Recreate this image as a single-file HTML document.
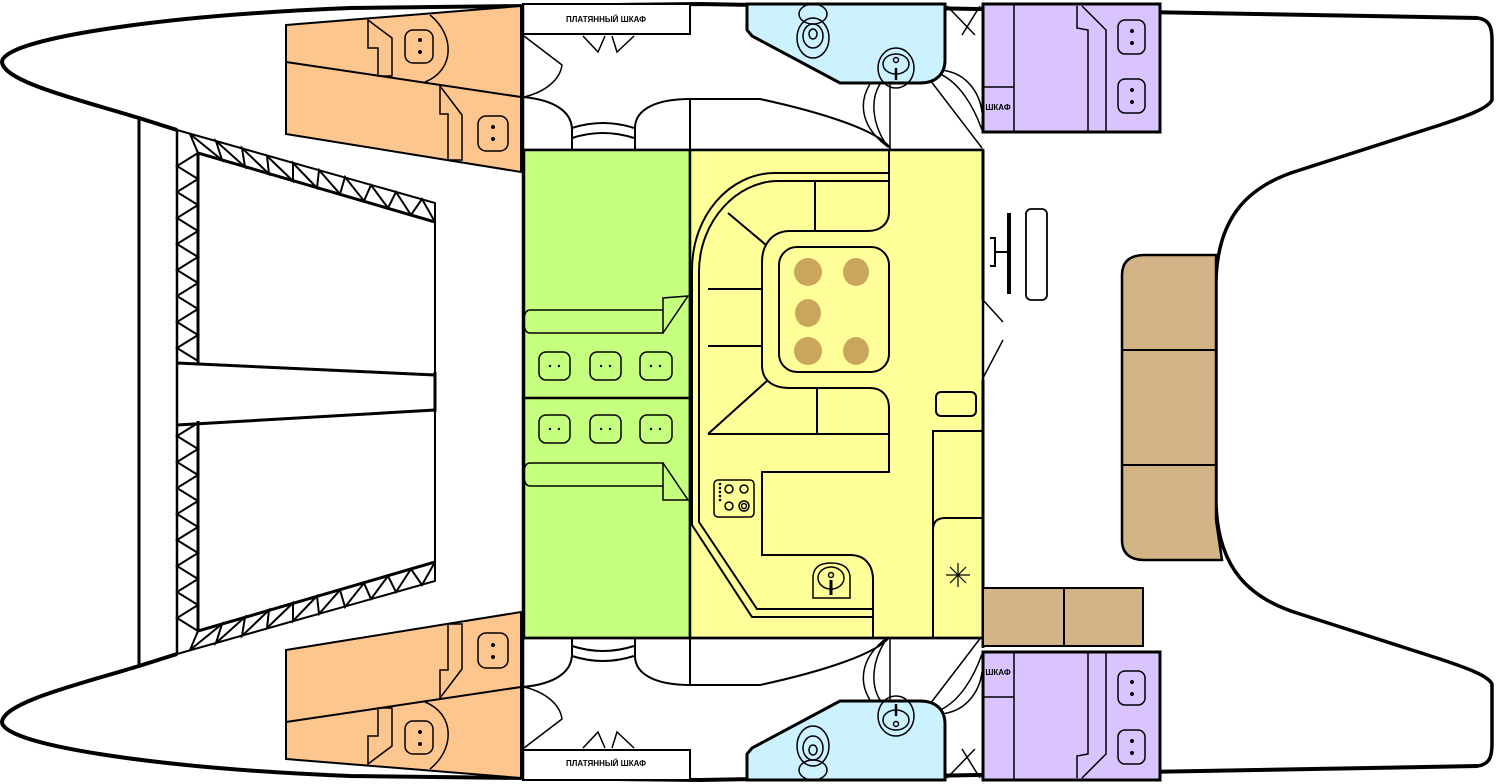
<!DOCTYPE html>
<html><head><meta charset="utf-8"><style>
html,body{margin:0;padding:0;background:#fff;}
svg{display:block;}
text{font-family:"Liberation Sans","DejaVu Sans",sans-serif;}
</style></head><body>
<svg width="1500" height="784" viewBox="0 0 1500 784" xmlns="http://www.w3.org/2000/svg" fill="none" stroke="#000" stroke-width="1.5">
<defs>
<g id="half">
  <path d="M1478,18 L700,4 L350,8 C150,16 2,40 2,62 C4,82 80,100 139,118 L177,130" stroke-width="4"/>
  <path d="M1478,18 C1490,20 1492,28 1492,40 L1492,100 C1488,108 1470,115 1440,125 L1300,170 C1250,185 1218,215 1216,280 L1216,392" stroke-width="3.5"/>
  <line x1="139" y1="118" x2="139" y2="392" stroke-width="3"/>
  <line x1="177" y1="130" x2="177" y2="392" stroke-width="2.5"/>
  <path d="M177,130 L435,203 L435,392" stroke-width="2"/>
  <path d="M198,363 L198,153 L435,222" stroke-width="3"/>
  <polyline points="198,153 177,166 198,179 177,192 198,205 177,218 198,231 177,244 198,257 177,270 198,283 177,296 198,309 177,322 198,335 177,348 198,361" stroke-width="2"/>
  <polyline points="198,153 190,134 222,160 216,141 245,167 242,148 269,174 267,156 293,181 293,163 317,188 319,170 340,194 345,177 364,201 371,185 388,208 396,192 411,215 422,199 435,222" stroke-width="2"/>
  <path d="M286,25 L521,6 L521,172 L286,134 Z" fill="#fdc68f" stroke-width="2"/>
  <line x1="286" y1="62" x2="521" y2="97" stroke-width="2"/>
  <path d="M368,20 L368,48 L378,48 L378,76 L392,76 L392,38 Z"/>
  <path d="M430,15 C455,35 455,70 425,82"/>
  <rect x="405" y="30" width="28" height="33" rx="8"/>
  <circle cx="420" cy="40" r="1.2" fill="#000"/><circle cx="420" cy="52" r="1.2" fill="#000"/>
  <path d="M440,86 L440,114 L448,114 L448,160 L462,160 L462,115 Z"/>
  <rect x="478" y="116" width="30" height="35" rx="8"/>
  <circle cx="493" cy="127" r="1.2" fill="#000"/><circle cx="493" cy="139" r="1.2" fill="#000"/>
  <rect x="523" y="4" width="167" height="30" fill="#fff" stroke-width="2"/>
  <path d="M583,36 L598,52 L605,36 M612,36 L617,52 L634,36"/>
  <path d="M524,36 L562,65 C560,80 545,92 524,97"/>
  <line x1="523" y1="4" x2="523" y2="392" stroke-width="2.5"/>
  <path d="M523,97 C555,100 572,112 572,130 L572,150 M572,128 Q603,118 634,128 M572,138 Q603,128 634,138 M635,150 L635,128 C635,110 655,99 690,99 L760,99 C820,112 878,130 890,148" stroke-width="2"/>
  <line x1="690" y1="99" x2="690" y2="150" stroke-width="2"/>
  <line x1="890" y1="83" x2="890" y2="150"/>
  <path d="M870,84 C860,100 858,125 888,147 M880,84 C870,100 872,125 888,147"/>
  <path d="M930,80 L982,148 M935,72 C960,80 975,110 982,130 M940,70 C968,72 980,95 982,112"/>
  <path d="M947,6 L975,35 M980,6 L962,35"/>
  <line x1="523" y1="150" x2="983" y2="150" stroke-width="2.5"/>
  <path d="M747,4 L945,4 L945,60 C945,75 935,83 920,83 L840,83 L752,36 L747,30 Z" fill="#ccf2ff" stroke-width="3"/>
  <ellipse cx="813" cy="14" rx="14" ry="10"/>
  <ellipse cx="813" cy="38" rx="16" ry="20"/>
  <ellipse cx="813" cy="36" rx="10" ry="12"/>
  <ellipse cx="813" cy="34" rx="4" ry="5"/>
  <ellipse cx="896" cy="68" rx="18" ry="20"/>
  <ellipse cx="896" cy="64" rx="13" ry="10"/>
  <circle cx="896" cy="60" r="2.5"/>
  <line x1="896" y1="68" x2="896" y2="80" stroke-width="2.5"/>
  <rect x="983" y="4" width="177" height="128" fill="#d9c4ff" stroke-width="3"/>
  <line x1="1014" y1="4" x2="1014" y2="132"/>
  <line x1="983" y1="87" x2="1014" y2="87"/>
  <path d="M1077,6 L1077,28 L1088,30 L1088,132 M1106,132 L1106,30 L1082,6"/>
  <rect x="1118" y="20" width="27" height="34" rx="7"/>
  <circle cx="1132" cy="31" r="1.2" fill="#000"/><circle cx="1132" cy="43" r="1.2" fill="#000"/>
  <rect x="1118" y="79" width="27" height="34" rx="7"/>
  <circle cx="1132" cy="90" r="1.2" fill="#000"/><circle cx="1132" cy="102" r="1.2" fill="#000"/>
</g>
</defs>
<use href="#half"/>
<use href="#half" transform="matrix(1 0 0 -1 0 784)"/>
<path d="M177,363 L435,375 M177,425 L435,410" stroke-width="3"/>
<line x1="435" y1="372" x2="435" y2="412" stroke-width="3"/>
<rect x="524" y="150" width="166" height="488" fill="#c6ff80" stroke-width="2.5"/>
<line x1="524" y1="398" x2="690" y2="398" stroke-width="2.5"/>
<path d="M530,310 L663,310 L663,333 L530,333 Q524,333 524,322 Q524,310 530,310 Z"/>
<path d="M663,310 L663,298 L688,296 L663,333"/>
<path d="M530,486 L663,486 L663,463 L530,463 Q524,463 524,474 Q524,486 530,486 Z"/>
<path d="M663,486 L663,500 L688,500 L663,463"/>
<g>
<rect x="539" y="352" width="31" height="28" rx="7"/><rect x="590" y="352" width="31" height="28" rx="7"/><rect x="640" y="352" width="32" height="28" rx="7"/>
<rect x="539" y="415" width="31" height="28" rx="7"/><rect x="590" y="415" width="31" height="28" rx="7"/><rect x="640" y="415" width="32" height="28" rx="7"/>
</g>
<g fill="#000" stroke="none">
<circle cx="550" cy="366" r="1.2"/><circle cx="559" cy="366" r="1.2"/><circle cx="601" cy="366" r="1.2"/><circle cx="610" cy="366" r="1.2"/><circle cx="651" cy="366" r="1.2"/><circle cx="660" cy="366" r="1.2"/>
<circle cx="550" cy="429" r="1.2"/><circle cx="559" cy="429" r="1.2"/><circle cx="601" cy="429" r="1.2"/><circle cx="610" cy="429" r="1.2"/><circle cx="651" cy="429" r="1.2"/><circle cx="660" cy="429" r="1.2"/>
</g>
<rect x="690" y="150" width="293" height="488" fill="#ffff99" stroke-width="2.5"/>
<path d="M889,173 L775,173 C730,173 692,215 692,270 L692,525 L752,617 L873,617" stroke-width="2"/>
<path d="M889,181 L778,181 C738,181 699,220 699,272 L699,522 L757,609 L873,609" stroke-width="2"/>
<path d="M889,150 L889,212 C889,224 880,231 868,231 L790,231 C772,231 762,245 762,262 L762,365 C762,380 772,388 790,388 L870,388 C882,388 889,396 889,408 L889,472 L762,472 L762,555 L850,555 C865,555 873,565 873,580 L873,638" stroke-width="2"/>
<path d="M815,181 L815,231 M728,213 L766,245 M708,289 L762,289 M708,346 L762,346 M768,380 L708,434 M708,434 L889,434 M817,388 L817,434" stroke-width="2"/>
<rect x="779" y="247" width="110" height="125" rx="18" stroke-width="2"/>
<g fill="#c9a55e" stroke="none">
<ellipse cx="808" cy="272" rx="14" ry="14"/><ellipse cx="856" cy="272" rx="13" ry="14"/>
<ellipse cx="808" cy="313" rx="13" ry="14"/>
<ellipse cx="808" cy="351" rx="14" ry="14"/><ellipse cx="856" cy="351" rx="13" ry="14"/>
</g>
<rect x="714" y="480" width="40" height="37" rx="4"/>
<circle cx="729" cy="489" r="4"/><circle cx="744" cy="489" r="4"/><circle cx="729" cy="506" r="4"/><circle cx="744" cy="506" r="5"/><circle cx="744" cy="506" r="2.5"/>
<g fill="#000" stroke="none"><circle cx="720" cy="484" r="1.3"/><circle cx="720" cy="488" r="1.3"/><circle cx="720" cy="492" r="1.3"/><circle cx="720" cy="496" r="1.3"/><circle cx="720" cy="500" r="1.3"/></g>
<path d="M813,598 L813,578 C813,566 822,563 831,563 C840,563 850,566 850,578 L850,598 Z"/>
<ellipse cx="831" cy="578" rx="13" ry="11"/><circle cx="831" cy="575" r="2.5"/>
<line x1="831" y1="580" x2="831" y2="595" stroke-width="3"/>
<rect x="936" y="392" width="40" height="24" rx="5" stroke-width="2"/>
<path d="M983,431 L933,431 L933,638 M983,518 L945,518 Q933,518 933,530" stroke-width="2"/>
<g stroke-width="1.2"><line x1="958" y1="563" x2="958" y2="587"/><line x1="946" y1="575" x2="970" y2="575"/><line x1="950" y1="567" x2="966" y2="583"/><line x1="966" y1="567" x2="950" y2="583"/></g>
<line x1="523" y1="638" x2="983" y2="638" stroke-width="2.5"/>
<line x1="983" y1="150" x2="983" y2="300" stroke-width="3"/>
<line x1="983" y1="380" x2="983" y2="648" stroke-width="3"/>
<path d="M983,300 L1003,322 M983,378 L1003,340"/>
<line x1="1009" y1="213" x2="1009" y2="294" stroke-width="4"/>
<rect x="1026" y="209" width="21" height="91" rx="5" stroke-width="1.8"/>
<path d="M990,238 L995,238 L995,266 L990,266 M995,252 L1009,252" stroke-width="2"/>
<path d="M1216,255 L1145,255 Q1122,255 1122,275 L1122,540 Q1122,560 1145,560 L1222,560 L1216,520 Z" fill="#d2b486" stroke-width="2.5"/>
<path d="M1122,350 L1216,350 M1122,465 L1216,465" stroke-width="2"/>
<rect x="983" y="588" width="160" height="58" fill="#d2b486" stroke-width="2"/>
<line x1="1064" y1="588" x2="1064" y2="646" stroke-width="2"/>
<g fill="#000" stroke="none" font-size="8" font-weight="bold" text-anchor="middle">
<text x="606" y="22">ПЛАТЯННЫЙ ШКАФ</text>
<text x="606" y="766">ПЛАТЯННЫЙ ШКАФ</text>
<text x="998" y="110">ШКАФ</text>
<text x="998" y="675">ШКАФ</text>
</g>
</svg>
</body></html>
